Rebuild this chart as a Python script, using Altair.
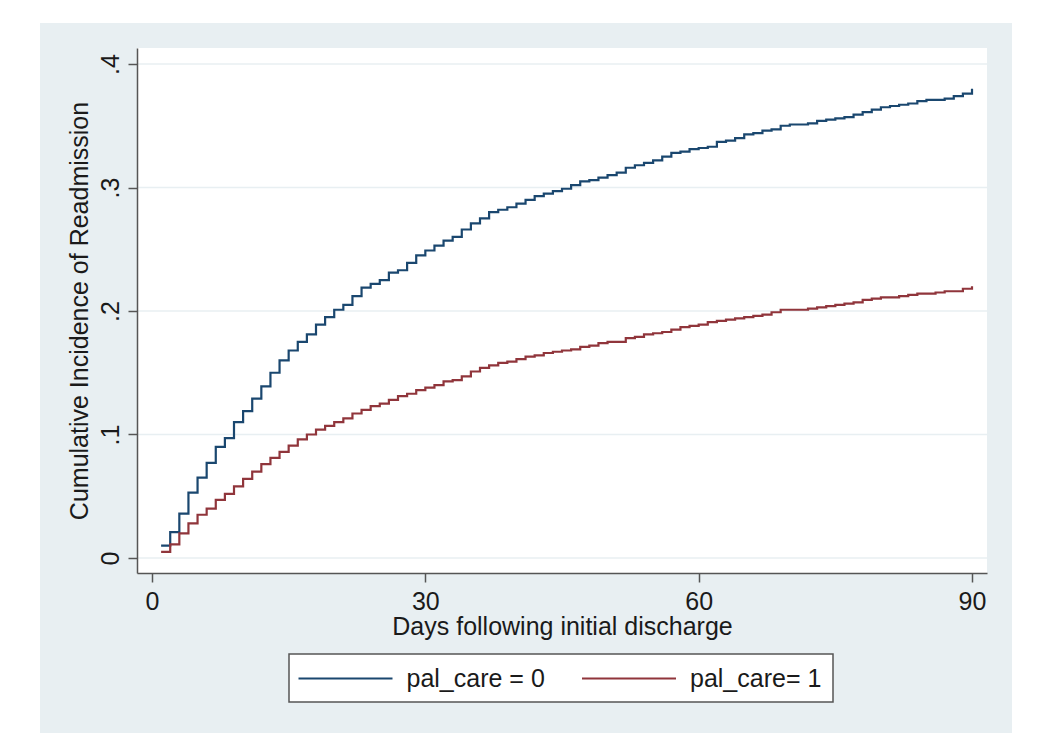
import altair as alt
import pandas as pd

days = list(range(1, 91))
pal_care_0 = [0.010, 0.021, 0.036, 0.053, 0.065, 0.077, 0.090, 0.097, 0.110, 0.119,
              0.129, 0.139, 0.150, 0.160, 0.168, 0.175, 0.181, 0.189, 0.195, 0.201,
              0.205, 0.212, 0.219, 0.222, 0.225, 0.231, 0.233, 0.239, 0.245, 0.249,
              0.253, 0.257, 0.260, 0.266, 0.271, 0.275, 0.280, 0.282, 0.284, 0.287,
              0.290, 0.293, 0.295, 0.297, 0.299, 0.302, 0.305, 0.306, 0.308, 0.310,
              0.312, 0.316, 0.318, 0.320, 0.322, 0.325, 0.328, 0.329, 0.331, 0.332,
              0.333, 0.337, 0.338, 0.340, 0.343, 0.344, 0.346, 0.347, 0.350, 0.351,
              0.351, 0.352, 0.354, 0.355, 0.356, 0.357, 0.359, 0.361, 0.363, 0.365,
              0.366, 0.367, 0.368, 0.370, 0.371, 0.371, 0.372, 0.374, 0.376, 0.380]
pal_care_1 = [0.005, 0.011, 0.020, 0.028, 0.035, 0.040, 0.047, 0.052, 0.058, 0.064,
              0.070, 0.076, 0.081, 0.086, 0.091, 0.096, 0.100, 0.104, 0.107, 0.110,
              0.113, 0.117, 0.120, 0.123, 0.125, 0.128, 0.131, 0.133, 0.136, 0.138,
              0.140, 0.143, 0.144, 0.147, 0.151, 0.154, 0.156, 0.158, 0.159, 0.161,
              0.163, 0.164, 0.166, 0.167, 0.168, 0.169, 0.171, 0.172, 0.174, 0.175,
              0.175, 0.178, 0.179, 0.181, 0.182, 0.183, 0.185, 0.187, 0.188, 0.189,
              0.191, 0.192, 0.193, 0.194, 0.195, 0.196, 0.197, 0.199, 0.201, 0.201,
              0.201, 0.202, 0.203, 0.204, 0.205, 0.206, 0.207, 0.209, 0.210, 0.211,
              0.211, 0.212, 0.213, 0.214, 0.214, 0.215, 0.216, 0.216, 0.218, 0.220]
series_names = ["pal_care = 0", "pal_care= 1"]
series_colors = ["#1a476f", "#90353b"]
x_ticks = [0, 30, 60, 90]
y_ticks = [0, 0.1, 0.2, 0.3, 0.4]

rows = []
for name, vals in zip(series_names, [pal_care_0, pal_care_1]):
    for d, v in zip(days, vals):
        rows.append({"day": d, "value": v, "group": name})
df = pd.DataFrame(rows)
grid_df = pd.DataFrame({"value": y_ticks})
one = pd.DataFrame({"k": [0]})

W, H = 850, 525
FONT = "Liberation Sans"
FS = 25
TXT = "#1a1a1a"
PANEL = "#e8eff2"

x_scale = alt.Scale(domain=[-1.646, 91.646], nice=False, zero=False)
y_scale = alt.Scale(domain=[-0.01215, 0.41296], nice=False, zero=False)

y_axis = alt.Axis(values=y_ticks, grid=False, labelAngle=270, zindex=1,
                  labelExpr="datum.value == 0 ? '0' : '.' + round(datum.value*10)",
                  title="Cumulative Incidence of Readmission", titlePadding=6,
                  labelPadding=5)
x_axis = alt.Axis(values=x_ticks, grid=False, zindex=1,
                  title="Days following initial discharge",
                  labelPadding=7, titlePadding=0)

panel = alt.Chart(one).mark_rect(color=PANEL).encode(
    x=alt.value(-97), x2=alt.value(875), y=alt.value(-25), y2=alt.value(685))
plotbg = alt.Chart(one).mark_rect(color="white").encode(
    x=alt.value(0), x2=alt.value(W), y=alt.value(0), y2=alt.value(H))
grid = alt.Chart(grid_df).mark_rule(color=PANEL, strokeWidth=1.6).encode(
    y=alt.Y("value:Q", scale=y_scale, axis=y_axis))
lines = alt.Chart(df).mark_line(interpolate="step-after", strokeWidth=2.2).encode(
    x=alt.X("day:Q", scale=x_scale, axis=x_axis),
    y=alt.Y("value:Q", scale=y_scale, axis=y_axis),
    color=alt.Color("group:N", scale=alt.Scale(domain=series_names, range=series_colors),
                    legend=None),
)

# legend box (drawn by hand, Stata style)
leg_box = alt.Chart(one).mark_rect(fill="white", stroke="#555555", strokeWidth=1.5).encode(
    x=alt.value(152), x2=alt.value(696), y=alt.value(606), y2=alt.value(654))
leg_items = []
for name, col, x0 in zip(series_names, series_colors, [161.5, 445]):
    leg_items.append(alt.Chart(one).mark_rule(color=col, strokeWidth=1.8).encode(
        x=alt.value(x0), x2=alt.value(x0 + 94), y=alt.value(630.5)))
    leg_items.append(alt.Chart(one).mark_text(
        text=name, align="left", baseline="middle", font=FONT, fontSize=FS, color=TXT
    ).encode(x=alt.value(x0 + 108), y=alt.value(631)))

chart = alt.layer(panel, plotbg, grid, lines, leg_box, *leg_items).properties(
    width=W, height=H,
    autosize=alt.AutoSizeParams(type="none"),
    padding={"left": 129, "top": 40, "right": 55, "bottom": 175},
    background="white",
).configure_view(stroke="transparent").configure_axis(
    domainColor="#555555", tickColor="#555555", domainWidth=1.5, tickWidth=1.5,
    tickSize=9, labelFont=FONT, labelFontSize=FS, labelColor=TXT,
    titleFont=FONT, titleFontSize=FS, titleFontWeight="normal", titleColor=TXT,
)

chart.save("out.html", embed_options={"renderer": "svg", "actions": False})
